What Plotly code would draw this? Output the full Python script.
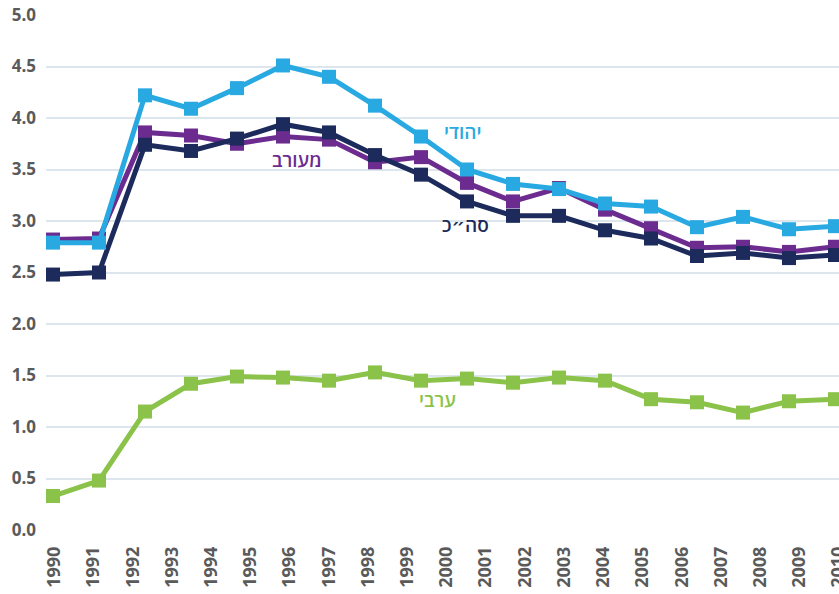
import plotly.graph_objects as go

# Tick labels along the bottom (years)
years = list(range(1990, 2011))

# Series values (18 points each, as drawn)
point_index = list(range(18))
jewish = [2.79, 2.79, 4.22, 4.09, 4.29, 4.51, 4.40, 4.12, 3.82, 3.50, 3.36, 3.31, 3.17, 3.14, 2.94, 3.04, 2.92, 2.95]
total = [2.48, 2.50, 3.74, 3.68, 3.80, 3.94, 3.86, 3.64, 3.45, 3.19, 3.05, 3.05, 2.91, 2.83, 2.66, 2.69, 2.64, 2.67]
mixed = [2.82, 2.83, 3.86, 3.83, 3.75, 3.82, 3.79, 3.57, 3.62, 3.37, 3.19, 3.32, 3.11, 2.93, 2.74, 2.75, 2.70, 2.75]
arab = [0.33, 0.48, 1.15, 1.42, 1.49, 1.48, 1.45, 1.53, 1.45, 1.47, 1.43, 1.48, 1.45, 1.27, 1.24, 1.14, 1.25, 1.27]

series_names = ["ערבי", "מעורב", "סה״כ", "יהודי"]
series_values = [arab, mixed, total, jewish]
series_colors = ["#8BC34A", "#6C2C8F", "#1C2B5B", "#29A9E1"]
label_pos = [(8.35, 1.26), (5.30, 3.59), (8.96, 2.96), (8.91, 3.86)]

fig = go.Figure()
for name, vals, col in zip(series_names, series_values, series_colors):
    fig.add_trace(go.Scatter(
        x=point_index, y=vals, mode="lines+markers", name=name,
        line=dict(color=col, width=5),
        marker=dict(symbol="square", size=14, color=col),
        cliponaxis=False, showlegend=False,
    ))

# invisible trace on the year axis so it renders
fig.add_trace(go.Scatter(x=[years[0]], y=[0], xaxis="x2", mode="markers",
                         marker=dict(opacity=0), showlegend=False, hoverinfo="skip"))

for name, col, (lx, ly) in zip(series_names, series_colors, label_pos):
    fig.add_annotation(x=lx, y=ly, text=name, showarrow=False,
                       font=dict(family="Open Sans, DejaVu Sans", size=19, color=col, weight=600),
                       xanchor="center", yanchor="middle")

fig.update_layout(
    width=839, height=594,
    margin=dict(l=46, r=0, t=15, b=64),
    plot_bgcolor="white", paper_bgcolor="white",
    font=dict(family="Open Sans, DejaVu Sans"),
    xaxis=dict(range=[-0.152, 17.087], showticklabels=False, showgrid=False,
               zeroline=False, showline=False, ticks=""),
    xaxis2=dict(overlaying="x", range=[1989.79, 2010.01], tickmode="array",
                tickvals=years, ticktext=[str(y) for y in years], tickangle=-90,
                side="bottom", showgrid=False, zeroline=False, showline=False,
                ticks="", automargin=False, ticklabelstandoff=12,
                ticklabeloverflow="allow",
                tickfont=dict(size=18, color="#5a5a5a", weight="bold")),
    yaxis=dict(range=[0, 5], dtick=0.5, tickformat=".1f", showgrid=True,
               gridcolor="#dde6ec", gridwidth=2, zeroline=False, showline=False,
               ticks="", automargin=False, ticklabelstandoff=9,
               tickfont=dict(size=17, color="#5a5a5a", weight="bold")),
)

fig.write_html("out.html", config={"displayModeBar": False},
               post_script="document.body.style.margin='0';document.body.style.overflow='hidden';")
